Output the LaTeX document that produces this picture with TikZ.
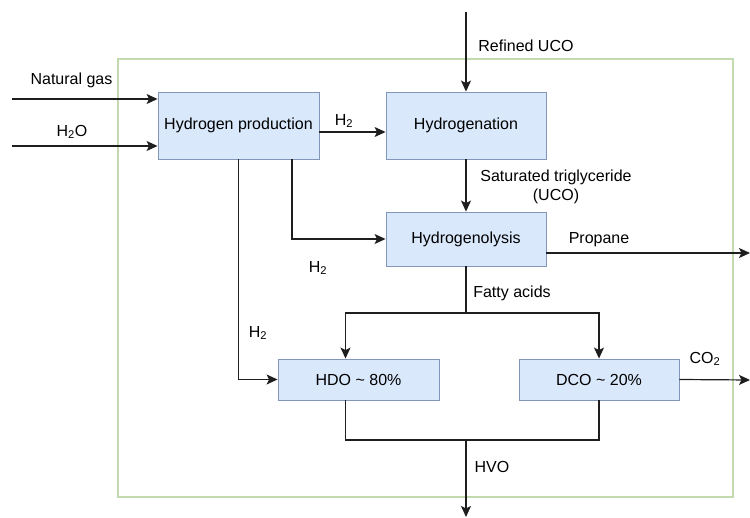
\documentclass[tikz,border=0pt]{standalone}
\usepackage{fontspec}
\setmainfont{Liberation Sans}
\usepackage{xcolor}
\usetikzlibrary{arrows.meta}
\definecolor{unitfill}{RGB}{218,232,252}
\definecolor{unitline}{RGB}{130,150,185}
\definecolor{frameline}{RGB}{195,218,175}
\definecolor{flowline}{RGB}{30,30,30}

\begin{document}
\begin{tikzpicture}[x=1pt,y=-1pt,
  font=\fontsize{16}{19}\selectfont,
  unit/.style={draw=unitline,fill=unitfill,line width=0.9pt,inner sep=0pt},
  flow/.style={draw=flowline,line width=1.2pt,-{Stealth[length=11pt,width=10pt,inset=2.5pt]}},
  link/.style={draw=flowline,line width=1.2pt}]
\useasboundingbox (0,0) rectangle (750,518);
\draw[frameline,line width=1.4pt] (118,59) rectangle (733,497);

\node[unit,minimum width=161pt,minimum height=67pt] (hp) at (238.5,125.5) {Hydrogen production};
\node[unit,minimum width=160pt,minimum height=67pt] (hg) at (466,125.5) {Hydrogenation};
\node[unit,minimum width=160pt,minimum height=54pt] (hgl) at (466,239) {Hydrogenolysis};
\node[unit,minimum width=161pt,minimum height=41pt] (hdo) at (358.5,379.5) {HDO \textasciitilde{} 80\%};
\node[unit,minimum width=160pt,minimum height=41pt] (dco) at (599,379.5) {DCO \textasciitilde{} 20\%};

\coordinate (gasin) at (12,99);
\coordinate (waterin) at (12,146);
\coordinate (ucoin) at (466,12);
\coordinate (propout) at (750,253);
\coordinate (co2out) at (750,380);
\coordinate (fasplit) at (466,313);
\coordinate (hvomix) at (466,440);
\coordinate (hvoout) at (466,517);

\draw[flow] (gasin) -- (gasin -| hp.west);
\draw[flow] (waterin) -- (waterin -| hp.west);
\draw[flow] ([yshift=-6.5pt]hp.east) -- ([yshift=-6.5pt]hg.west);
\draw[flow] (ucoin) -- (hg.north);
\draw[flow] (hg.south) -- (hgl.north);
\draw[flow] ([xshift=53.5pt]hp.south) |- (hgl.west);
\draw[flow] (hp.south) |- (hdo.west);
\draw[flow] (propout -| hgl.east) -- (propout);
\draw[link] (hgl.south) -- (fasplit);
\draw[flow] (fasplit) -| ([xshift=-13pt]hdo.north);
\draw[flow] (fasplit) -| (dco.north);
\draw[flow] (dco.east) -- (co2out);
\draw[link] ([xshift=-13pt]hdo.south) |- (hvomix);
\draw[link] (dco.south) |- (hvomix);
\draw[flow] (hvomix) -- (hvoout);

\node (gaslbl) at (71.5,80) {Natural gas};
\node (waterlbl) at (72,132) {H\textsubscript{2}O};
\node (h2a) at (344,121) {H\textsubscript{2}};
\node (ucolbl) at (526,46) {Refined UCO};
\node[align=center,inner sep=0pt] (satlbl) at (556,187) {Saturated triglyceride\\(UCO)};
\node (proplbl) at (599,240) {Propane};
\node (h2b) at (318,268) {H\textsubscript{2}};
\node (h2c) at (258,333) {H\textsubscript{2}};
\node (falbl) at (512,293) {Fatty acids};
\node (co2lbl) at (705,359) {CO\textsubscript{2}};
\node (hvolbl) at (492,467) {HVO};
\end{tikzpicture}
\end{document}
